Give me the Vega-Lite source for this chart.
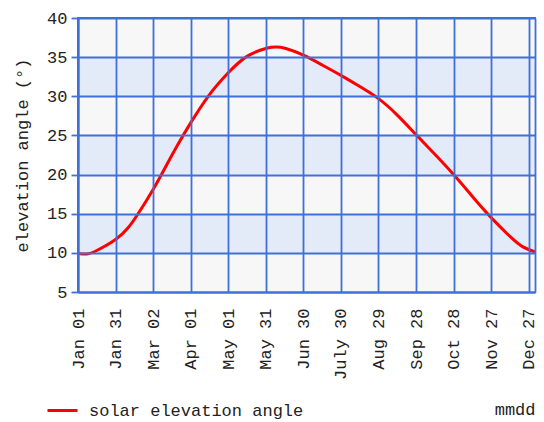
{
  "$schema": "https://vega.github.io/schema/vega-lite/v6.json",
  "width": 457,
  "height": 274,
  "autosize": "none",
  "padding": {"left": 78, "top": 18, "right": 9, "bottom": 130},
  "view": {"stroke": "#3f6fd9", "strokeWidth": 2},
  "config": {
    "font": "Liberation Mono"
  },
  "encoding": {
    "y": {
      "field": "v", "type": "quantitative",
      "scale": {"domain": [5, 40], "nice": false, "zero": false},
      "axis": {
        "zindex": 1,
        "values": [5, 10, 15, 20, 25, 30, 35, 40],
        "tickCount": 8,
        "labelOverlap": false,
        "labelFontSize": 17,
        "labelColor": "#222",
        "labelPadding": 4,
        "tickSize": 7,
        "tickColor": "#3f6fd9",
        "tickWidth": 1.8,
        "grid": true,
        "gridColor": "#3f6fd9",
        "gridWidth": 1.8,
        "gridOpacity": 1,
        "domainColor": "#3f6fd9",
        "domainWidth": 2,
        "title": "elevation angle (°)",
        "titleFont": "Liberation Mono",
        "titleFontSize": 17,
        "titleFontWeight": "normal",
        "titleColor": "#222",
        "titleAngle": 270,
        "titleAlign": "center",
        "titleBaseline": "middle",
        "titleX": -56,
        "titleY": 137
      }
    }
  },
  "layer": [
    {
      "data": {"values": [
        {"v": 5, "v2": 10, "band": "a"},
        {"v": 10, "v2": 15, "band": "b"},
        {"v": 15, "v2": 20, "band": "a"},
        {"v": 20, "v2": 25, "band": "b"},
        {"v": 25, "v2": 30, "band": "a"},
        {"v": 30, "v2": 35, "band": "b"},
        {"v": 35, "v2": 40, "band": "a"}
      ]},
      "mark": {"type": "rect"},
      "encoding": {
        "y2": {"field": "v2"},
        "fill": {"field": "band", "type": "nominal", "scale": {"domain": ["a", "b"], "range": ["#f7f7f7", "#e3eaf8"]}, "legend": null}
      }
    },
    {
      "data": {"values": [
        {"day": 0, "v": 9.92, "s": "solar elevation angle"},
        {"day": 7, "v": 9.85, "s": "solar elevation angle"},
        {"day": 15, "v": 10.3, "s": "solar elevation angle"},
        {"day": 30, "v": 11.7, "s": "solar elevation angle"},
        {"day": 40, "v": 13.2, "s": "solar elevation angle"},
        {"day": 48, "v": 15.0, "s": "solar elevation angle"},
        {"day": 60, "v": 18.1, "s": "solar elevation angle"},
        {"day": 70, "v": 21.0, "s": "solar elevation angle"},
        {"day": 80, "v": 23.9, "s": "solar elevation angle"},
        {"day": 90, "v": 26.6, "s": "solar elevation angle"},
        {"day": 104, "v": 30.0, "s": "solar elevation angle"},
        {"day": 120, "v": 33.0, "s": "solar elevation angle"},
        {"day": 135, "v": 35.1, "s": "solar elevation angle"},
        {"day": 150, "v": 36.1, "s": "solar elevation angle"},
        {"day": 158, "v": 36.28, "s": "solar elevation angle"},
        {"day": 166, "v": 36.1, "s": "solar elevation angle"},
        {"day": 180, "v": 35.25, "s": "solar elevation angle"},
        {"day": 195, "v": 34.0, "s": "solar elevation angle"},
        {"day": 210, "v": 32.67, "s": "solar elevation angle"},
        {"day": 225, "v": 31.25, "s": "solar elevation angle"},
        {"day": 240, "v": 29.7, "s": "solar elevation angle"},
        {"day": 255, "v": 27.6, "s": "solar elevation angle"},
        {"day": 270, "v": 25.1, "s": "solar elevation angle"},
        {"day": 285, "v": 22.6, "s": "solar elevation angle"},
        {"day": 300, "v": 20.0, "s": "solar elevation angle"},
        {"day": 315, "v": 17.2, "s": "solar elevation angle"},
        {"day": 330, "v": 14.5, "s": "solar elevation angle"},
        {"day": 345, "v": 12.1, "s": "solar elevation angle"},
        {"day": 355, "v": 10.8, "s": "solar elevation angle"},
        {"day": 365, "v": 10.13, "s": "solar elevation angle"}
      ]},
      "mark": {"type": "line", "interpolate": "natural", "strokeWidth": 3, "clip": true},
      "encoding": {
        "x": {
          "field": "day", "type": "quantitative",
          "scale": {"domain": [0, 365], "nice": false, "zero": false},
          "axis": {
            "zindex": 1,
            "values": [0, 30, 60, 90, 120, 150, 180, 210, 240, 270, 300, 330, 360, 365],
            "labelExpr": "datum.value > 362 ? '' : ['Jan 01','Jan 31','Mar 02','Apr 01','May 01','May 31','Jun 30','July 30','Aug 29','Sep 28','Oct 28','Nov 27','Dec 27'][round(datum.value/30)]",
            "labelAngle": 270,
            "labelAlign": "right",
            "labelBaseline": "middle",
            "labelPadding": 16,
            "labelFontSize": 17,
            "labelColor": "#222",
            "labelOverlap": false,
            "labelFlush": false,
            "tickSize": 0,
            "grid": true,
            "gridColor": "#3f6fd9",
            "gridWidth": 1.8,
            "gridOpacity": 1,
            "domainColor": "#3f6fd9",
            "domainWidth": 2,
            "title": "mmdd",
            "titleFont": "Liberation Mono",
            "titleFontSize": 17,
            "titleFontWeight": "normal",
            "titleColor": "#222",
            "titleAnchor": "end",
            "titleAlign": "right",
            "titleBaseline": "alphabetic",
            "titleX": 457,
            "titleY": 122
          }
        },
        "color": {
          "field": "s", "type": "nominal",
          "scale": {"range": ["#ff0000"]},
          "legend": {
            "orient": "none",
            "legendX": -32,
            "legendY": 376,
            "title": null,
            "symbolType": "stroke",
            "symbolSize": 900,
            "symbolStrokeWidth": 3,
            "labelFontSize": 17,
            "labelColor": "#222",
            "labelOffset": 10,
            "labelLimit": 400
          }
        }
      }
    }
  ]
}
